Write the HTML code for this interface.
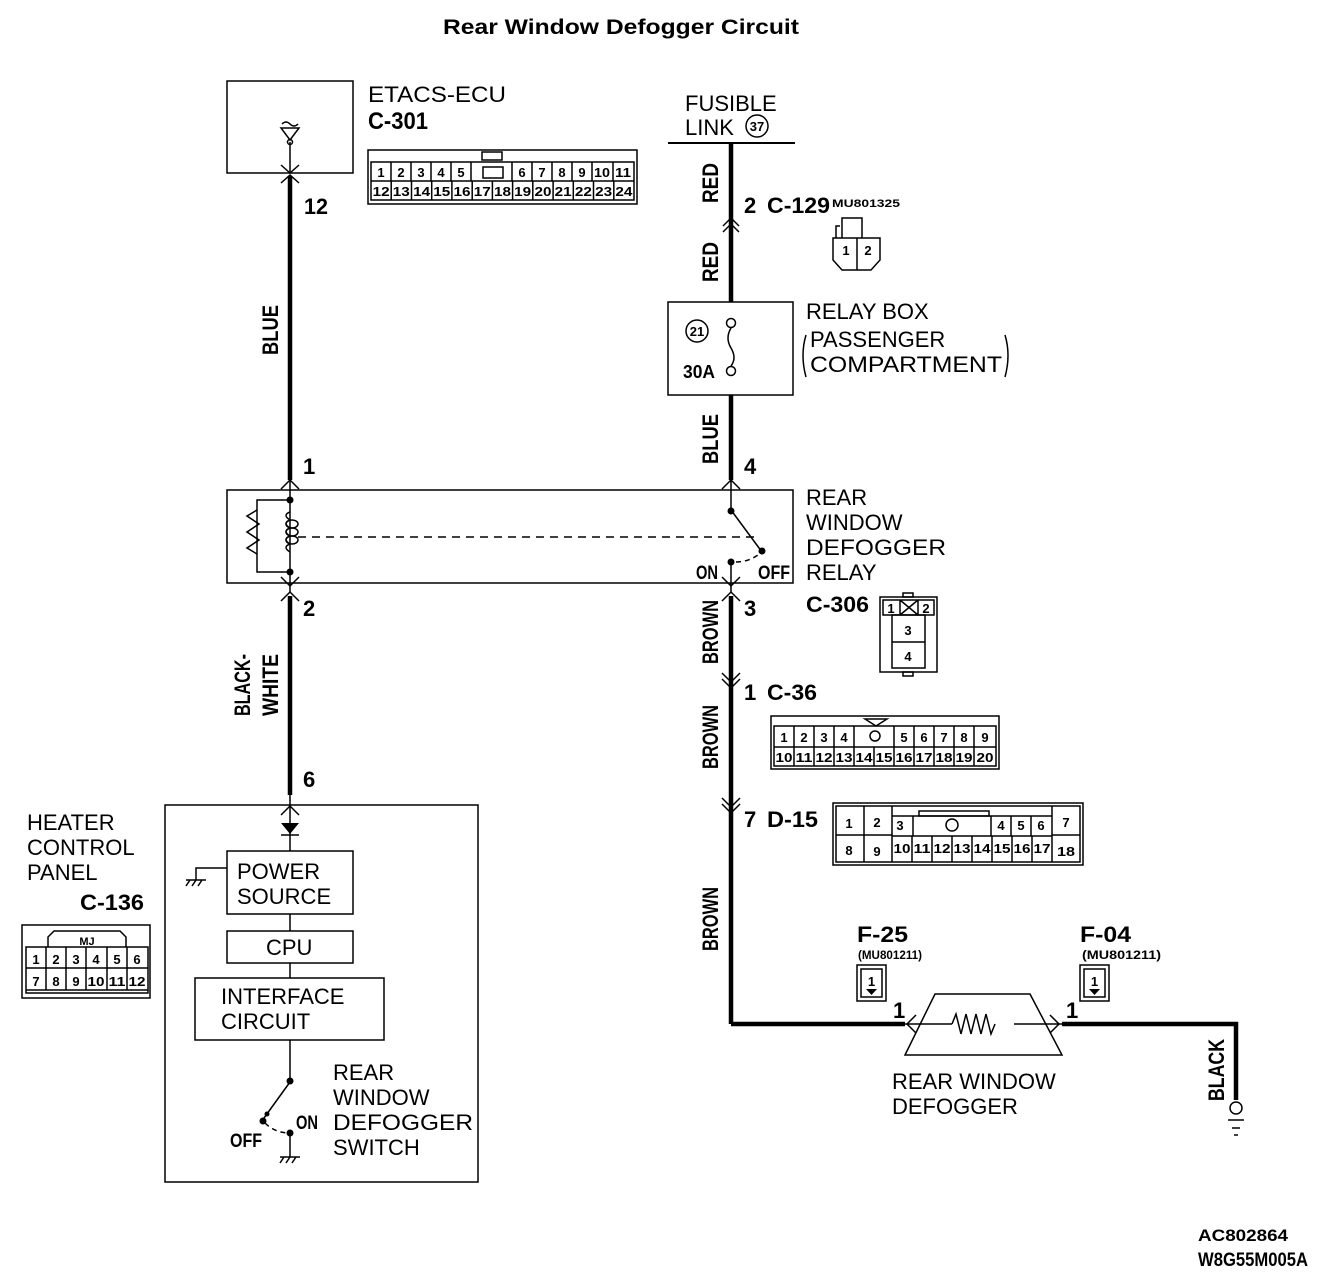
<!DOCTYPE html>
<html><head><meta charset="utf-8"><style>
html,body{margin:0;padding:0;background:#fff;}
svg{display:block}
.t{font-family:"Liberation Sans",sans-serif;font-size:22px;fill:#000}
.b{font-family:"Liberation Sans Narrow","Liberation Sans",sans-serif;font-weight:bold;fill:#000}
.c{font-family:"Liberation Sans Narrow","Liberation Sans",sans-serif;font-weight:bold;font-size:13px;fill:#000;text-anchor:middle}
</style></head><body>
<svg width="1328" height="1282" viewBox="0 0 1328 1282" xmlns="http://www.w3.org/2000/svg">
<text x="443" y="34" textLength="356" lengthAdjust="spacingAndGlyphs" style="font-family:'Liberation Sans',sans-serif;font-weight:bold;font-size:21px">Rear Window Defogger Circuit</text>

<g fill="none" stroke="#000" stroke-width="1.5">
<rect x="227" y="81" width="126" height="92"/>
<line x1="290" y1="142" x2="290" y2="173"/>
<path d="M282 124 q4 -4 8 0 q4 4 8 0"/>
<path d="M281 128 L299 128 L290 140 Z"/>
<circle cx="290" cy="142" r="2.5"/>
<path d="M281 165 L290 173 L299 165"/>
<path d="M281 183 L290 175 L299 183"/>
</g>
<g stroke="#000" stroke-width="4.5" fill="none">
<line x1="290" y1="176" x2="290" y2="480"/>
<line x1="290" y1="596" x2="290" y2="795"/>
<line x1="731" y1="143" x2="731" y2="302"/>
<line x1="731" y1="395" x2="731" y2="480"/>
<line x1="731" y1="596" x2="731" y2="1024"/>
<polyline points="731,1024 905,1024"/>
<polyline points="1062,1024 1236,1024 1236,1100"/>
</g>
<text x="304" y="214" class="b" font-size="22" textLength="24" lengthAdjust="spacingAndGlyphs">12</text>
<text class="b" font-size="22" transform="translate(278,355) rotate(-90)" textLength="50" lengthAdjust="spacingAndGlyphs">BLUE</text>
<text x="303" y="474" class="b" font-size="22">1</text>
<text x="303" y="616" class="b" font-size="22">2</text>
<text class="b" font-size="22" transform="translate(250,716) rotate(-90)" textLength="62" lengthAdjust="spacingAndGlyphs">BLACK-</text>
<text class="b" font-size="22" transform="translate(278,716) rotate(-90)" textLength="62" lengthAdjust="spacingAndGlyphs">WHITE</text>
<text x="303" y="787" class="b" font-size="22">6</text>

<text x="368" y="102" class="t" textLength="138" lengthAdjust="spacingAndGlyphs">ETACS-ECU</text>
<text x="368" y="129" class="b" font-size="24" textLength="60" lengthAdjust="spacingAndGlyphs">C-301</text>

<g fill="none" stroke="#000" stroke-width="1.5">
<rect x="368" y="150" width="269" height="54"/>
<rect x="482" y="152" width="20" height="8"/>
<rect x="371" y="162" width="263" height="38"/>
<line x1="371" y1="181" x2="634" y2="181"/>
<path d="M391 162V181M411 162V181M431 162V181M451 162V181M471 162V181M512 162V181M532 162V181M552 162V181M572 162V181M592 162V181M613 162V181"/>
<rect x="483" y="167" width="20" height="11"/>
<path d="M391.2 181V200M411.5 181V200M431.7 181V200M451.9 181V200M472.2 181V200M492.4 181V200M512.6 181V200M532.8 181V200M553.1 181V200M573.3 181V200M593.5 181V200M613.8 181V200"/>
</g>
<g class="c">
<text x="381" y="177">1</text><text x="401" y="177">2</text><text x="421" y="177">3</text><text x="441" y="177">4</text><text x="461" y="177">5</text>
<text x="522" y="177">6</text><text x="542" y="177">7</text><text x="562" y="177">8</text><text x="582" y="177">9</text><text x="602" y="177" textLength="16" lengthAdjust="spacingAndGlyphs">10</text><text x="623" y="177" textLength="16" lengthAdjust="spacingAndGlyphs">11</text>
</g>
<g class="c" font-size="13">
<text x="381.1" y="196" textLength="17" lengthAdjust="spacingAndGlyphs">12</text><text x="401.3" y="196" textLength="17" lengthAdjust="spacingAndGlyphs">13</text><text x="421.6" y="196" textLength="17" lengthAdjust="spacingAndGlyphs">14</text><text x="441.8" y="196" textLength="17" lengthAdjust="spacingAndGlyphs">15</text><text x="462" y="196" textLength="17" lengthAdjust="spacingAndGlyphs">16</text><text x="482.3" y="196" textLength="17" lengthAdjust="spacingAndGlyphs">17</text><text x="502.5" y="196" textLength="17" lengthAdjust="spacingAndGlyphs">18</text><text x="522.7" y="196" textLength="17" lengthAdjust="spacingAndGlyphs">19</text><text x="543" y="196" textLength="17" lengthAdjust="spacingAndGlyphs">20</text><text x="563.2" y="196" textLength="17" lengthAdjust="spacingAndGlyphs">21</text><text x="583.4" y="196" textLength="17" lengthAdjust="spacingAndGlyphs">22</text><text x="603.7" y="196" textLength="17" lengthAdjust="spacingAndGlyphs">23</text><text x="623.9" y="196" textLength="17" lengthAdjust="spacingAndGlyphs">24</text>
</g>

<line x1="668" y1="143" x2="795" y2="143" stroke="#000" stroke-width="2"/>
<text x="685" y="111" class="t">FUSIBLE</text>
<text x="685" y="135" class="t">LINK</text>
<circle cx="757" cy="126" r="11" fill="none" stroke="#000" stroke-width="1.5"/>
<text x="757" y="131" class="c" font-size="14">37</text>
<text class="b" font-size="22" transform="translate(718,203) rotate(-90)" textLength="40" lengthAdjust="spacingAndGlyphs">RED</text>
<text class="b" font-size="22" transform="translate(718,282) rotate(-90)" textLength="40" lengthAdjust="spacingAndGlyphs">RED</text>
<path d="M723 226 L731 218 L739 226 M723 232 L731 224 L739 232" fill="none" stroke="#000" stroke-width="1.5"/>
<text x="744" y="213" class="b" font-size="22">2</text>
<text x="767" y="213" class="b" font-size="22" textLength="63" lengthAdjust="spacingAndGlyphs">C-129</text>
<text x="832" y="207" class="b" font-size="11" textLength="68" lengthAdjust="spacingAndGlyphs">MU801325</text>
<g fill="none" stroke="#000" stroke-width="1.5">
<path d="M833 238 L833 260 L842 270 L871 270 L880 260 L880 238 Z"/>
<path d="M842 238 V218 H862 V238"/><path d="M836 238 V226 H840"/>
<line x1="857" y1="238" x2="857" y2="270"/>
</g>
<text x="846" y="255" class="c">1</text><text x="868" y="255" class="c">2</text>

<g fill="none" stroke="#000" stroke-width="1.5">
<rect x="668" y="302" width="125" height="93"/>
<circle cx="697" cy="331" r="11"/>
<circle cx="731" cy="323" r="4.5" fill="#fff"/>
<circle cx="731" cy="371" r="4.5" fill="#fff"/>
<path d="M731 328 q-6 10 0 20 q6 10 0 18"/>
<path d="M806 335 q-6 20 0 42"/><path d="M1005 335 q6 20 0 42"/>
</g>
<text x="697" y="336" class="c" font-size="15">21</text>
<text x="683" y="378" class="b" font-size="18" textLength="32" lengthAdjust="spacingAndGlyphs">30A</text>
<text x="806" y="319" class="t">RELAY BOX</text>
<text x="810" y="347" class="t">PASSENGER</text>
<text x="810" y="372" class="t" textLength="192" lengthAdjust="spacingAndGlyphs">COMPARTMENT</text>
<text class="b" font-size="22" transform="translate(718,464) rotate(-90)" textLength="50" lengthAdjust="spacingAndGlyphs">BLUE</text>
<text x="744" y="474" class="b" font-size="22">4</text>

<g fill="none" stroke="#000" stroke-width="1.5">
<rect x="227" y="490" width="566" height="93"/>
<path d="M281 489 L290 480 L299 489"/><path d="M281 601 L290 592 L299 601"/>
<path d="M281 577 L290 586 L299 577"/>
<path d="M722 489 L731 480 L740 489"/><path d="M722 601 L731 592 L740 601"/>
<path d="M722 577 L731 586 L740 577"/>
<line x1="290" y1="480" x2="290" y2="592"/>
<line x1="731" y1="480" x2="731" y2="510"/>
<line x1="731" y1="560" x2="731" y2="592"/>
<line x1="731" y1="510" x2="762" y2="552"/>
<polyline points="290,500 257,500 257,572 290,572"/>
<path d="M257 510 l-10 6 l12 8 l-12 8 l12 8 l-12 8 l10 6"/>
<path d="M290 512 q-8 3 0 8 M290 520 q-8 3 0 8 M290 528 q-8 3 0 8 M290 536 q-8 3 0 8 M290 544 q-8 3 0 8"/>
<ellipse cx="292" cy="524" rx="6" ry="4"/><ellipse cx="292" cy="532" rx="6" ry="4"/><ellipse cx="292" cy="540" rx="6" ry="4"/>
<line x1="298" y1="537" x2="756" y2="537" stroke-dasharray="8,6"/>
<path d="M736 562 q14 0 26 -10" stroke-dasharray="5,4"/>
</g>
<g fill="#000"><circle cx="290" cy="500" r="3.5"/><circle cx="290" cy="572" r="3.5"/><circle cx="731" cy="511" r="3.5"/><circle cx="762" cy="551" r="3.5"/><circle cx="731" cy="562" r="3.5"/></g>
<text x="696" y="579" class="b" font-size="19" textLength="22" lengthAdjust="spacingAndGlyphs">ON</text>
<text x="758" y="579" class="b" font-size="19" textLength="32" lengthAdjust="spacingAndGlyphs">OFF</text>
<text x="806" y="505" class="t">REAR</text>
<text x="806" y="530" class="t">WINDOW</text>
<text x="806" y="555" class="t" textLength="140" lengthAdjust="spacingAndGlyphs">DEFOGGER</text>
<text x="806" y="580" class="t">RELAY</text>
<text x="806" y="612" class="b" font-size="22" textLength="63" lengthAdjust="spacingAndGlyphs">C-306</text>
<text x="744" y="616" class="b" font-size="22">3</text>

<g fill="none" stroke="#000" stroke-width="1.5">
<rect x="880" y="597" width="57" height="75"/>
<rect x="903" y="593" width="10" height="4"/><rect x="903" y="672" width="10" height="4"/>
<rect x="883" y="600" width="51" height="15"/>
<rect x="892" y="615" width="33" height="53"/>
<line x1="892" y1="642" x2="925" y2="642"/>
<path d="M900 600 V615 M918 600 V615 M900 600 L918 615 M918 600 L900 615"/>
</g>
<text x="891" y="613" class="c">1</text><text x="926" y="613" class="c">2</text>
<text x="908" y="635" class="c">3</text><text x="908" y="661" class="c">4</text>

<text class="b" font-size="22" transform="translate(718,664) rotate(-90)" textLength="64" lengthAdjust="spacingAndGlyphs">BROWN</text>
<path d="M722 673 L731 682 L740 673 M722 679 L731 688 L740 679" fill="none" stroke="#000" stroke-width="1.5"/>
<text x="744" y="700" class="b" font-size="22">1</text>
<text x="767" y="700" class="b" font-size="22" textLength="50" lengthAdjust="spacingAndGlyphs">C-36</text>
<g fill="none" stroke="#000" stroke-width="1.5">
<rect x="771" y="716" width="228" height="53"/>
<path d="M865 719 H887 L876 726 Z"/>
<rect x="774" y="726" width="222" height="40"/>
<line x1="774" y1="747" x2="996" y2="747"/>
<path d="M794 726V747M814 726V747M834 726V747M854 726V747M894 726V747M914 726V747M934 726V747M954 726V747M974 726V747"/>
<circle cx="875" cy="736" r="5"/>
<path d="M794 747V766M814 747V766M834 747V766M854 747V766M874 747V766M894 747V766M914 747V766M934 747V766M954 747V766M974 747V766"/>
</g>
<g class="c">
<text x="784" y="742">1</text><text x="804" y="742">2</text><text x="824" y="742">3</text><text x="844" y="742">4</text>
<text x="904" y="742">5</text><text x="924" y="742">6</text><text x="944" y="742">7</text><text x="964" y="742">8</text><text x="985" y="742">9</text>
</g>
<g class="c">
<text x="784" y="762" textLength="17" lengthAdjust="spacingAndGlyphs">10</text><text x="804" y="762" textLength="17" lengthAdjust="spacingAndGlyphs">11</text><text x="824" y="762" textLength="17" lengthAdjust="spacingAndGlyphs">12</text><text x="844" y="762" textLength="17" lengthAdjust="spacingAndGlyphs">13</text><text x="864" y="762" textLength="17" lengthAdjust="spacingAndGlyphs">14</text><text x="884" y="762" textLength="17" lengthAdjust="spacingAndGlyphs">15</text><text x="904" y="762" textLength="17" lengthAdjust="spacingAndGlyphs">16</text><text x="924" y="762" textLength="17" lengthAdjust="spacingAndGlyphs">17</text><text x="944" y="762" textLength="17" lengthAdjust="spacingAndGlyphs">18</text><text x="964" y="762" textLength="17" lengthAdjust="spacingAndGlyphs">19</text><text x="985" y="762" textLength="17" lengthAdjust="spacingAndGlyphs">20</text>
</g>
<text class="b" font-size="22" transform="translate(718,769) rotate(-90)" textLength="64" lengthAdjust="spacingAndGlyphs">BROWN</text>
<path d="M722 798 L731 807 L740 798 M722 804 L731 813 L740 804" fill="none" stroke="#000" stroke-width="1.5"/>
<text x="744" y="827" class="b" font-size="22">7</text>
<text x="767" y="827" class="b" font-size="22" textLength="51" lengthAdjust="spacingAndGlyphs">D-15</text>
<g fill="none" stroke="#000" stroke-width="1.5">
<rect x="833" y="803" width="250" height="62"/>
<rect x="836" y="806" width="244" height="56"/>
<rect x="919" y="811" width="70" height="5"/>
<path d="M864 806V862M892 806V862M1052 806V862"/>
<line x1="836" y1="835" x2="892" y2="835"/>
<line x1="1052" y1="835" x2="1080" y2="835"/>
<path d="M892 816H1052"/>
<line x1="892" y1="836" x2="1052" y2="836"/>
<path d="M913 816V836M991 816V836M1011 816V836M1031 816V836"/>
<path d="M912 836V862M932 836V862M952 836V862M972 836V862M992 836V862M1012 836V862M1032 836V862"/>
<circle cx="952" cy="825" r="6"/>
</g>
<g class="c" font-size="15">
<text x="849" y="828">1</text><text x="877" y="827">2</text><text x="900" y="830">3</text>
<text x="1001" y="830">4</text><text x="1021" y="830">5</text><text x="1041" y="830">6</text><text x="1066" y="827">7</text>
<text x="849" y="855">8</text><text x="877" y="856">9</text>
</g>
<g class="c">
<text x="902" y="853" textLength="17" lengthAdjust="spacingAndGlyphs">10</text><text x="922" y="853" textLength="17" lengthAdjust="spacingAndGlyphs">11</text><text x="942" y="853" textLength="17" lengthAdjust="spacingAndGlyphs">12</text><text x="962" y="853" textLength="17" lengthAdjust="spacingAndGlyphs">13</text><text x="982" y="853" textLength="17" lengthAdjust="spacingAndGlyphs">14</text><text x="1002" y="853" textLength="17" lengthAdjust="spacingAndGlyphs">15</text><text x="1022" y="853" textLength="17" lengthAdjust="spacingAndGlyphs">16</text><text x="1042" y="853" textLength="17" lengthAdjust="spacingAndGlyphs">17</text><text x="1066" y="856" textLength="18" lengthAdjust="spacingAndGlyphs">18</text>
</g>
<text class="b" font-size="22" transform="translate(718,951) rotate(-90)" textLength="64" lengthAdjust="spacingAndGlyphs">BROWN</text>

<text x="857" y="942" class="b" font-size="22" textLength="51" lengthAdjust="spacingAndGlyphs">F-25</text>
<text x="858" y="959" class="b" font-size="12" textLength="64" lengthAdjust="spacingAndGlyphs">(MU801211)</text>
<text x="1080" y="942" class="b" font-size="22" textLength="51" lengthAdjust="spacingAndGlyphs">F-04</text>
<text x="1082" y="959" class="b" font-size="12" textLength="79" lengthAdjust="spacingAndGlyphs">(MU801211)</text>
<g fill="none" stroke="#000" stroke-width="1.5">
<rect x="857" y="965" width="29" height="36"/><rect x="861" y="969" width="21" height="28"/>
<rect x="1080" y="965" width="29" height="36"/><rect x="1084" y="969" width="21" height="28"/>
</g>
<path d="M866 989 H877 L871.5 995 Z M1089 989 H1100 L1094.5 995 Z" fill="#000"/>
<text x="871.5" y="986" class="c">1</text><text x="1094.5" y="986" class="c">1</text>

<g fill="none" stroke="#000" stroke-width="1.5">
<path d="M935 994 L1030 994 L1062 1055 L905 1055 Z"/>
<line x1="905" y1="1024" x2="952" y2="1024"/>
<path d="M952 1024 l4 -10 l5 20 l5 -20 l5 20 l5 -20 l5 20 l5 -20 l5 20 l4 -10"/>
<line x1="1014" y1="1024" x2="1062" y2="1024"/>
<path d="M916 1015 L907 1024 L916 1033"/>
<path d="M1050 1015 L1059 1024 L1050 1033"/>
<circle cx="1236" cy="1108" r="6"/>
<line x1="1228" y1="1120" x2="1244" y2="1120"/>
<line x1="1232" y1="1128" x2="1240" y2="1128"/>
<line x1="1234" y1="1135" x2="1238" y2="1135"/>
</g>
<text x="893" y="1018" class="b" font-size="22">1</text>
<text x="1066" y="1018" class="b" font-size="22">1</text>
<text x="892" y="1089" class="t">REAR WINDOW</text>
<text x="892" y="1114" class="t">DEFOGGER</text>
<text class="b" font-size="22" transform="translate(1224,1101) rotate(-90)" textLength="62" lengthAdjust="spacingAndGlyphs">BLACK</text>

<text x="27" y="830" class="t">HEATER</text>
<text x="27" y="855" class="t">CONTROL</text>
<text x="27" y="880" class="t">PANEL</text>
<text x="80" y="910" class="b" font-size="22" textLength="64" lengthAdjust="spacingAndGlyphs">C-136</text>
<g fill="none" stroke="#000" stroke-width="1.5">
<rect x="22" y="925" width="128" height="73"/>
<path d="M26 993 V947 H148 V993 Z"/>
<path d="M48 947 V937 L54 931 H120 L126 937 V947"/>
<line x1="26" y1="968" x2="148" y2="968"/>
<path d="M46 947V990M66 947V990M86 947V990M107 947V990M127 947V990"/>
<line x1="26" y1="990" x2="148" y2="990"/>
<rect x="165" y="805" width="313" height="377"/>
<line x1="290" y1="795" x2="290" y2="1078"/>
<path d="M281 815 L290 806 L299 815"/>
<line x1="281" y1="835" x2="299" y2="835"/>
<rect x="227" y="851" width="126" height="63" fill="#fff"/>
<rect x="227" y="931" width="126" height="32" fill="#fff"/>
<rect x="195" y="978" width="189" height="62" fill="#fff"/>
<polyline points="227,868 196,868 196,880"/>
<path d="M186 880 H206 M190 880 l-4 6 M196 880 l-4 6 M202 880 l-4 6"/>
<line x1="290" y1="1082" x2="264" y2="1118"/>
<path d="M265 1123 q10 10 25 10" stroke-dasharray="5,4"/>
<line x1="290" y1="1133" x2="290" y2="1157"/>
<path d="M280 1157 H300 M284 1157 l-4 6 M290 1157 l-4 6 M296 1157 l-4 6"/>
</g>
<path d="M281 823 H299 L290 834 Z" fill="#000"/>
<g fill="#000"><circle cx="290" cy="1081" r="3.5"/><circle cx="263" cy="1121" r="3.5"/><circle cx="290" cy="1133" r="3.5"/><circle cx="267" cy="1114" r="2.5"/></g>
<g class="c">
<text x="36" y="964">1</text><text x="56" y="964">2</text><text x="76" y="964">3</text><text x="96" y="964">4</text><text x="117" y="964">5</text><text x="137" y="964">6</text>
<text x="36" y="986">7</text><text x="56" y="986">8</text><text x="76" y="986">9</text><text x="96" y="986" textLength="17" lengthAdjust="spacingAndGlyphs">10</text><text x="117" y="986" textLength="17" lengthAdjust="spacingAndGlyphs">11</text><text x="137" y="986" textLength="17" lengthAdjust="spacingAndGlyphs">12</text>
<text x="87" y="945" font-size="11">MJ</text>
</g>
<text x="237" y="879" class="t">POWER</text>
<text x="237" y="904" class="t">SOURCE</text>
<text x="266" y="955" class="t">CPU</text>
<text x="221" y="1004" class="t">INTERFACE</text>
<text x="221" y="1029" class="t">CIRCUIT</text>
<text x="296" y="1129" class="b" font-size="19" textLength="22" lengthAdjust="spacingAndGlyphs">ON</text>
<text x="230" y="1147" class="b" font-size="19" textLength="32" lengthAdjust="spacingAndGlyphs">OFF</text>
<text x="333" y="1080" class="t">REAR</text>
<text x="333" y="1105" class="t">WINDOW</text>
<text x="333" y="1130" class="t" textLength="140" lengthAdjust="spacingAndGlyphs">DEFOGGER</text>
<text x="333" y="1155" class="t">SWITCH</text>

<text x="1198" y="1241" class="b" font-size="17" textLength="90" lengthAdjust="spacingAndGlyphs">AC802864</text>
<text x="1198" y="1266" class="b" font-size="19" textLength="110" lengthAdjust="spacingAndGlyphs">W8G55M005A</text>
</svg>
</body></html>
